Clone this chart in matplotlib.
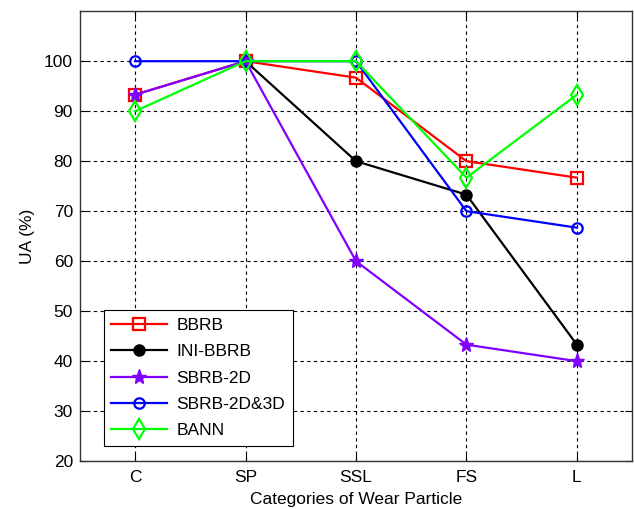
import numpy as np
import matplotlib
matplotlib.use('Agg')
import matplotlib.pyplot as plt

plt.rcParams['font.family'] = ['Liberation Sans', 'DejaVu Sans']

# categories of wear particle
categories = ['C', 'SP', 'SSL', 'FS', 'L']

# UA (%) for each method
bbrb = [93.3, 100, 96.7, 80, 76.7]
ini_bbrb = [np.nan, 100, 80, 73.3, 43.3]
sbrb_2d = [93.3, 100, 60, 43.3, 40]
sbrb_2d3d = [100, 100, 100, 70, 66.7]
bann = [90, 100, 100, 76.7, 93.3]

yticks = [20, 30, 40, 50, 60, 70, 80, 90, 100]

fs = 12.5

fig = plt.figure(figsize=(6.34, 5.09), dpi=100)
ax = fig.add_axes([0.126, 0.094, 0.871, 0.884])

x = np.arange(1, len(categories) + 1)
ax.plot(x, bbrb, color='red', marker='s', markersize=9, mfc='none', mew=1.6, lw=1.6, label='BBRB')
ax.plot(x, ini_bbrb, color='black', marker='o', markersize=8, lw=1.6, label='INI-BBRB')
ax.plot(x, sbrb_2d, color='#8000ff', marker='*', markersize=11, lw=1.6, label='SBRB-2D')
ax.plot(x, sbrb_2d3d, color='blue', marker='o', markersize=7.5, mfc='none', mew=1.6, lw=1.6, label='SBRB-2D&3D')
ax.plot(x, bann, color='#00ff00', marker='d', markersize=10, mfc='none', mew=1.6, lw=1.6, label='BANN')

ax.set_xlim(0.5, 5.5)
ax.set_ylim(20, 110)
ax.set_xticks(x)
ax.set_xticklabels(categories)
ax.set_yticks(yticks)
ax.tick_params(direction='in', top=True, right=True, labelsize=fs, length=5)
ax.tick_params(axis='x', pad=6.5)
ax.tick_params(axis='y', pad=5)
ax.grid(True, color='black', linestyle=(0, (3, 3)), linewidth=0.8)
for s in ax.spines.values():
    s.set_linewidth(1.0)
    s.set_color('#333333')

ax.set_xlabel('Categories of Wear Particle', fontsize=fs, labelpad=5)
ax.set_ylabel('UA (%)', fontsize=fs, labelpad=6.5)

leg = ax.legend(loc='lower left', bbox_to_anchor=(0.043, 0.033), fontsize=fs,
                handlelength=3.2, handletextpad=0.55, fancybox=False, edgecolor='black',
                framealpha=1, borderpad=0.45, labelspacing=0.65, borderaxespad=0)
leg.get_frame().set_linewidth(0.8)

fig.savefig('out.png', dpi=100)
